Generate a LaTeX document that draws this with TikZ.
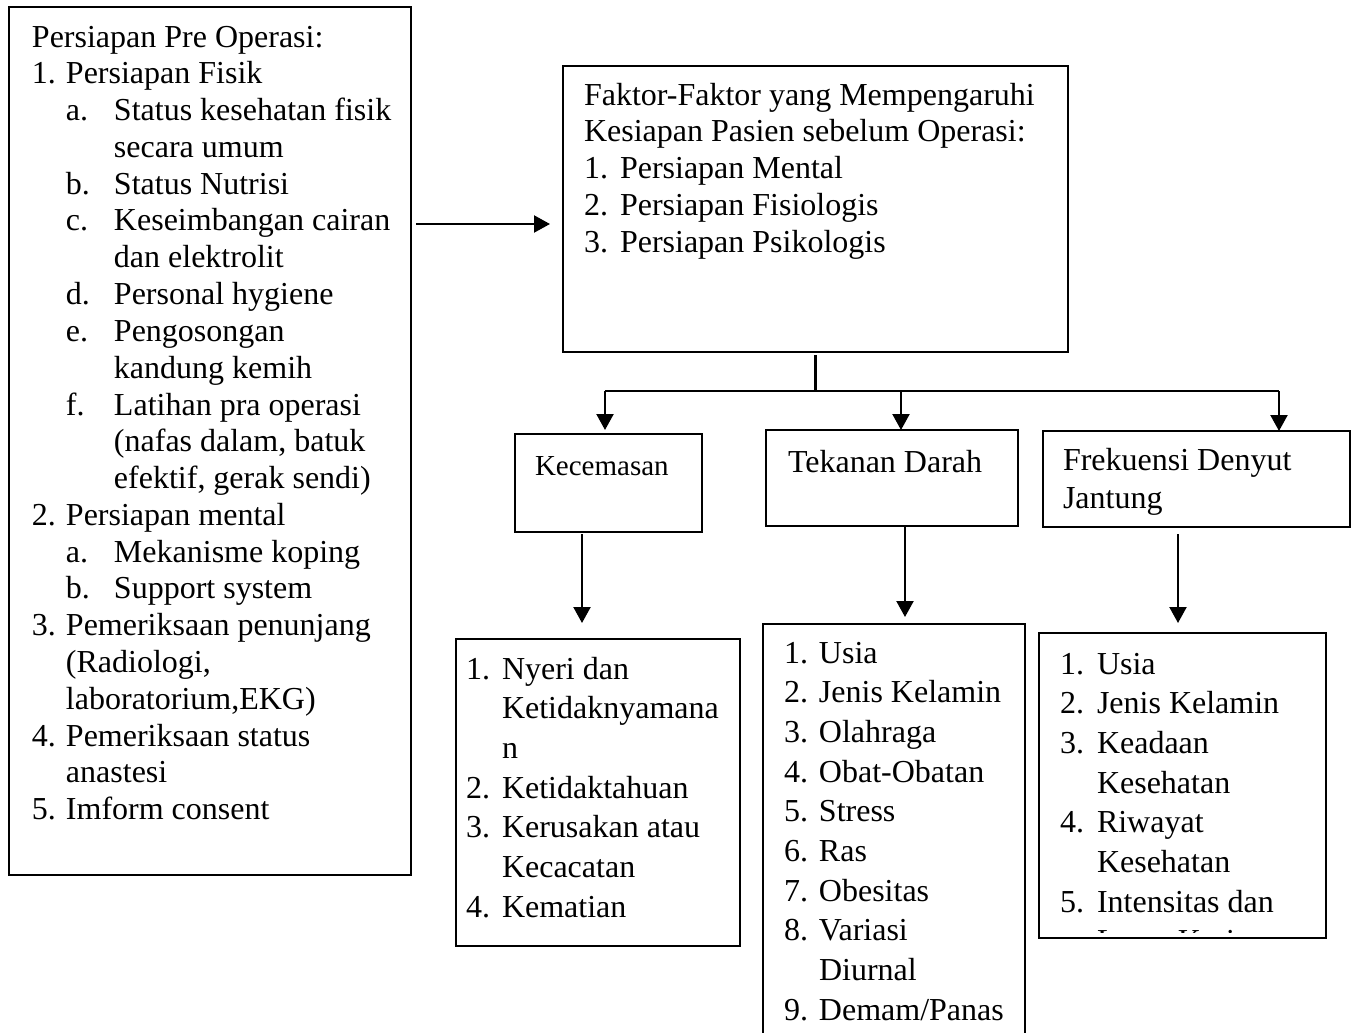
\documentclass[tikz,border=0pt]{standalone}
\usepackage{fontspec}
\setmainfont{Liberation Serif}
\usetikzlibrary{arrows.meta}
\newcommand\fs{\fontsize{16}{18.4}\selectfont}
\newcommand\Vt[2]{\vtop{\baselineskip=#1\relax\lineskip=0pt\lineskiplimit=-100pt #2}}
\newcommand\Ln[1]{\hbox{#1}}
\newcommand\Ni[3]{\hbox{\makebox[#1][l]{#2}#3}}
\newcommand\Ind[2]{\hbox{\hskip#1\relax #2}}
\tikzset{
  box/.style={draw, line width=1pt, anchor=north west, inner sep=0pt, outer sep=0pt},
  txt/.style={anchor=base west, inner sep=0pt, outer sep=0pt, font=\fs},
  conn/.style={line width=1.1pt},
  arr/.style={conn, -{Triangle[length=8pt,width=8.5pt]}},
}
\begin{document}
\begin{tikzpicture}[x=0.5pt,y=-0.5pt]
\fill[white] (0,0) rectangle (1356,1033);
\useasboundingbox (0,0) rectangle (1356,1033);

% boxes
\node[box, minimum width=201pt, minimum height=434pt] (left) at (9,7) {};
\node[box, minimum width=252.5pt, minimum height=143pt] (mid) at (563,66) {};
\node[box, minimum width=93.5pt, minimum height=49pt] (kec) at (515,434) {};
\node[box, minimum width=126pt, minimum height=48pt] (tek) at (766,430) {};
\node[box, minimum width=153.5pt, minimum height=48pt] (frek) at (1043,431) {};
\node[box, minimum width=142pt, minimum height=153.5pt] (kl) at (456,639) {};
\node[box, minimum width=131pt, minimum height=218pt] (tl) at (763,624) {};
\node[box, minimum width=143.5pt, minimum height=152.5pt] (fl) at (1039,633) {};

% texts
\node[txt] (tleft) at (32,47) {\Vt{18.4pt}{%
\Ln{Persiapan Pre Operasi:}
\Ni{17pt}{1.}{Persiapan Fisik}
\Ind{17pt}{\makebox[24pt][l]{a.}Status kesehatan fisik}
\Ind{41pt}{secara umum}
\Ind{17pt}{\makebox[24pt][l]{b.}Status Nutrisi}
\Ind{17pt}{\makebox[24pt][l]{c.}Keseimbangan cairan}
\Ind{41pt}{dan elektrolit}
\Ind{17pt}{\makebox[24pt][l]{d.}Personal hygiene}
\Ind{17pt}{\makebox[24pt][l]{e.}Pengosongan}
\Ind{41pt}{kandung kemih}
\Ind{17pt}{\makebox[24pt][l]{f.}Latihan pra operasi}
\Ind{41pt}{(nafas dalam, batuk}
\Ind{41pt}{efektif, gerak sendi)}
\Ni{17pt}{2.}{Persiapan mental}
\Ind{17pt}{\makebox[24pt][l]{a.}Mekanisme koping}
\Ind{17pt}{\makebox[24pt][l]{b.}Support system}
\Ni{17pt}{3.}{Pemeriksaan penunjang}
\Ind{17pt}{(Radiologi,}
\Ind{17pt}{laboratorium,EKG)}
\Ni{17pt}{4.}{Pemeriksaan status}
\Ind{17pt}{anastesi}
\Ni{17pt}{5.}{Imform consent}}};

\node[txt] (tmid) at (584,105) {\Vt{18.4pt}{%
\Ln{Faktor-Faktor yang Mempengaruhi}
\Ln{Kesiapan Pasien sebelum Operasi:}
\Ni{18pt}{1.}{Persiapan Mental}
\Ni{18pt}{2.}{Persiapan Fisiologis}
\Ni{18pt}{3.}{Persiapan Psikologis}}};

\node[txt, font=\fontsize{14.5}{17}\selectfont] (tkec) at (535,475) {Kecemasan};
\node[txt] (ttek) at (788,472) {Tekanan Darah};
\node[txt] (tfrek) at (1063,470) {\Vt{19pt}{%
\Ln{Frekuensi Denyut}
\Ln{Jantung}}};

\node[txt] (tkl) at (466,679) {\Vt{19.85pt}{%
\Ni{18pt}{1.}{Nyeri dan}
\Ind{18pt}{Ketidaknyamana}
\Ind{18pt}{n}
\Ni{18pt}{2.}{Ketidaktahuan}
\Ni{18pt}{3.}{Kerusakan atau}
\Ind{18pt}{Kecacatan}
\Ni{18pt}{4.}{Kematian}}};

\node[txt] (ttl) at (784,663) {\Vt{19.85pt}{%
\Ni{17.5pt}{1.}{Usia}
\Ni{17.5pt}{2.}{Jenis Kelamin}
\Ni{17.5pt}{3.}{Olahraga}
\Ni{17.5pt}{4.}{Obat-Obatan}
\Ni{17.5pt}{5.}{Stress}
\Ni{17.5pt}{6.}{Ras}
\Ni{17.5pt}{7.}{Obesitas}
\Ni{17.5pt}{8.}{Variasi}
\Ind{17.5pt}{Diurnal}
\Ni{17.5pt}{9.}{Demam/Panas}}};

\begin{scope}
\clip (1041,635) rectangle (1324,932);
\node[txt] (tfl) at (1060,674) {\Vt{19.85pt}{%
\Ni{18.5pt}{1.}{Usia}
\Ni{18.5pt}{2.}{Jenis Kelamin}
\Ni{18.5pt}{3.}{Keadaan}
\Ind{18.5pt}{Kesehatan}
\Ni{18.5pt}{4.}{Riwayat}
\Ind{18.5pt}{Kesehatan}
\Ni{18.5pt}{5.}{Intensitas dan}
\Ind{18.5pt}{Lama Kerja}}};
\end{scope}

% connectors
\coordinate (ya) at (0,224);
\coordinate (bus) at (0,391);
\coordinate (j1) at (605,391);
\coordinate (j2) at (901,391);
\coordinate (j3) at (1279,391);
\coordinate (c1) at (582,0);
\coordinate (c2) at (905,0);
\coordinate (c3) at (1178,0);

\draw[arr, shorten <=2.5pt, shorten >=6.5pt] (left.east |- ya) -- (mid.west |- ya);
\draw[conn, shorten <=1.5pt] (mid.south) -- (mid.south |- bus);
\draw[conn] (j1) -- (j3);
\draw[arr, shorten >=2pt] (j1) -- (kec.north -| j1);
\draw[arr] (j2) -- (tek.north -| j2);
\draw[arr] (j3) -- (frek.north -| j3);
\draw[arr, shorten <=1pt, shorten >=8pt] (kec.south -| c1) -- (kl.north -| c1);
\draw[arr, shorten <=0.5pt, shorten >=3.5pt] (tek.south -| c2) -- (tl.north -| c2);
\draw[arr, shorten <=3.5pt, shorten >=5pt] (frek.south -| c3) -- (fl.north -| c3);
\end{tikzpicture}
\end{document}
